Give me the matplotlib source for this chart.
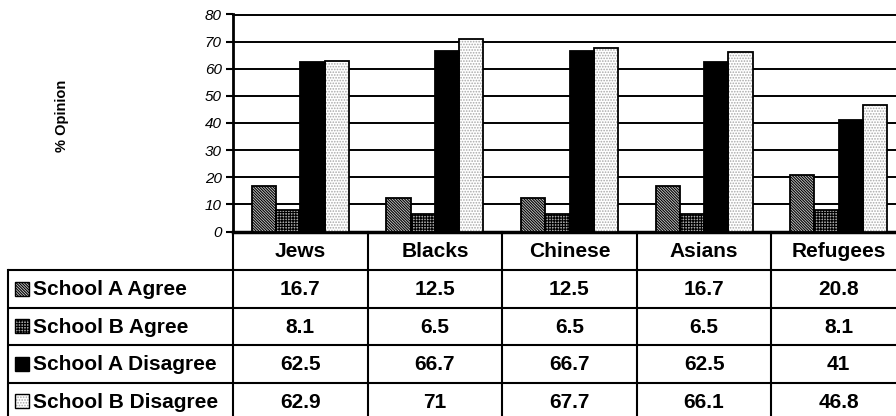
import numpy as np
import matplotlib
matplotlib.use('Agg')
import matplotlib.pyplot as plt
from matplotlib.patches import Rectangle

plt.rcParams['font.family'] = ['Liberation Sans', 'DejaVu Sans']
plt.rcParams['hatch.linewidth'] = 0.8

groups = ['Jews', 'Blacks', 'Chinese', 'Asians', 'Refugees']
series = ['School A Agree', 'School B Agree', 'School A Disagree', 'School B Disagree']
a_agree = [16.7, 12.5, 12.5, 16.7, 20.8]
b_agree = [8.1, 6.5, 6.5, 6.5, 8.1]
a_disagree = [62.5, 66.7, 66.7, 62.5, 41]
b_disagree = [62.9, 71, 67.7, 66.1, 46.8]
values = [a_agree, b_agree, a_disagree, b_disagree]
yticks = list(range(0, 81, 10))

# fill colour, hatch, hatch colour for each series
styles = [
    ('#d0d0d0', '\\' * 12, 'black'),
    ('#a8a8a8', '+' * 6, 'black'),
    ('black', None, 'black'),
    ('white', '.' * 6, '#a8a8a8'),
]

W, H = 896, 416
fig = plt.figure(figsize=(W / 100, H / 100), dpi=100)

# plot area in pixels (right side runs just past the figure edge)
x0, col_w = 233, 134.6
y_top, y_zero = 14.5, 231.5
ax = fig.add_axes([x0 / W, 1 - y_zero / H, 5 * col_w / W, (y_zero - y_top) / H])
ax.patch.set_alpha(0)

width = 0.18
pos = np.arange(len(groups))
for k, (vals, (face, hatch, hcol)) in enumerate(zip(values, styles)):
    xs = pos + 0.5 + (k - 1.5) * width
    ax.bar(xs, vals, width, color=face, hatch=hatch, edgecolor=hcol, linewidth=0, zorder=3)
    ax.bar(xs, vals, width, fill=False, edgecolor='black', linewidth=1.3, zorder=4)

ax.set_xlim(0, len(groups))
ax.set_ylim(0, 80)
ax.set_yticks(yticks, [str(t) for t in yticks], fontstyle='italic', fontsize=11)
ax.set_xticks([])
ax.yaxis.grid(True, color='black', linewidth=1.4)
ax.set_axisbelow(True)
ax.tick_params(axis='y', direction='out', length=5, width=1.5, pad=3)
ax.spines['right'].set_visible(False)
ax.spines['top'].set_linewidth(1.4)
ax.spines['left'].set_linewidth(2)
ax.spines['bottom'].set_linewidth(2.5)

fig.text(62 / W, 1 - 116 / H, '% Opinion', rotation=90, fontsize=10.5,
         fontweight='bold', ha='center', va='center')

# data table underneath, drawn in pixel coordinates
tab = fig.add_axes([0, 0, 1, 1], zorder=-1)
tab.set_xlim(0, W)
tab.set_ylim(H, 0)
tab.axis('off')

left = 8
head_bot = 270
row_h = 37.5
edges = [x0 + i * col_w for i in range(len(groups) + 1)]
bottom = head_bot + len(series) * row_h
lw = 1.5

for i in range(len(series)):
    y = head_bot + i * row_h
    tab.plot([left, edges[-1]], [y, y], color='black', lw=lw, solid_capstyle='butt')
tab.plot([left, left], [head_bot, bottom], color='black', lw=lw)
for xe in edges:
    tab.plot([xe, xe], [y_zero, bottom], color='black', lw=lw)

for j, g in enumerate(groups):
    tab.text(edges[j] + col_w / 2, (y_zero + head_bot) / 2 + 1, g, fontsize=15,
             fontweight='bold', ha='center', va='center')

for i, (name, vals, (face, hatch, hcol)) in enumerate(zip(series, values, styles)):
    yc = head_bot + (i + 0.5) * row_h
    tab.add_patch(Rectangle((15, yc - 7), 14, 14, facecolor=face, hatch=hatch,
                            edgecolor=hcol, linewidth=0))
    tab.add_patch(Rectangle((15, yc - 7), 14, 14, fill=False, edgecolor='black', linewidth=1))
    tab.text(33, yc + 1, name, fontsize=15, fontweight='bold', ha='left', va='center')
    for j, v in enumerate(vals):
        tab.text(edges[j] + col_w / 2, yc + 1, '{:g}'.format(v), fontsize=15,
                 fontweight='bold', ha='center', va='center')

fig.savefig('out.png', dpi=100)
